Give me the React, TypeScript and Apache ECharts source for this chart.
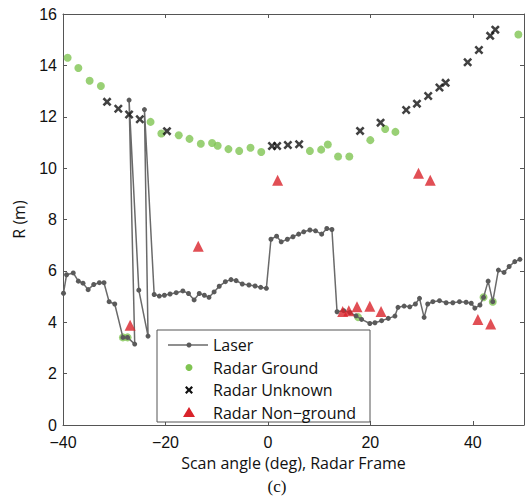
import React, { useEffect, useRef } from "react";
import * as echarts from "echarts";

const seriesNames = ["Laser", "Radar Ground", "Radar Unknown", "Radar Non\u2212ground"];

const laserData: number[][] = [
  [-39.9, 5.13], [-39.3, 5.85], [-38.0, 5.92], [-37.0, 5.6], [-36.1, 5.52], [-35.1, 5.27],
  [-34.0, 5.47], [-32.9, 5.54], [-32.0, 5.54], [-31.0, 4.8], [-29.9, 4.71], [-28.3, 3.41],
  [-27.4, 3.41], [-26.0, 3.15], [-27.1, 12.65], [-25.2, 5.25], [-23.4, 3.46], [-24.1, 12.28],
  [-22.2, 5.08], [-21.2, 5.02], [-20.2, 5.05], [-19.1, 5.1], [-17.9, 5.15], [-16.6, 5.22],
  [-15.5, 5.12], [-14.4, 4.87], [-13.4, 5.12], [-12.4, 5.05], [-11.5, 4.97], [-10.5, 5.18],
  [-9.5, 5.4], [-8.3, 5.58], [-7.2, 5.66], [-6.2, 5.62], [-5.0, 5.49], [-3.7, 5.45],
  [-2.5, 5.41], [-1.4, 5.36], [-0.3, 5.32], [0.6, 7.23], [1.7, 7.35], [2.6, 7.13],
  [3.8, 7.23], [4.9, 7.33], [6.0, 7.43], [7.0, 7.52], [8.2, 7.59], [9.3, 7.56],
  [10.5, 7.43], [11.5, 7.65], [12.5, 7.61], [13.5, 4.41], [14.8, 4.45], [16.0, 4.38],
  [17.2, 4.25], [18.3, 4.11], [19.9, 3.95], [20.9, 3.98], [22.2, 4.06], [23.5, 4.15],
  [24.8, 4.24], [25.4, 4.58], [26.6, 4.63], [27.7, 4.6], [28.8, 4.71], [29.6, 4.93],
  [30.5, 4.19], [31.2, 4.71], [32.2, 4.8], [33.5, 4.84], [34.8, 4.76], [36.1, 4.76],
  [37.4, 4.8], [38.7, 4.78], [39.7, 4.74], [40.4, 4.55], [41.4, 4.67], [42.1, 4.97],
  [43.0, 5.6], [43.9, 4.8], [45.0, 6.03], [46.1, 5.94], [47.1, 6.17], [48.2, 6.36],
  [49.2, 6.45],
];

const groundData: number[][] = [
  [-39.1, 14.3], [-37.0, 13.9], [-34.8, 13.4], [-32.6, 13.2], [-22.9, 11.8], [-20.8, 11.35],
  [-17.4, 11.28], [-15.3, 11.14], [-13.1, 10.95], [-10.9, 10.98], [-9.8, 10.87], [-7.7, 10.74],
  [-5.6, 10.67], [-3.4, 10.79], [-1.3, 10.63], [8.2, 10.67], [10.4, 10.72], [11.7, 10.92],
  [13.7, 10.45], [15.9, 10.45], [20.0, 11.09], [22.9, 11.52], [24.9, 11.41], [48.9, 15.2],
  [-28.3, 3.41], [-27.4, 3.41], [17.6, 4.2], [42.1, 4.97], [43.9, 4.8],
];

const unknownData: number[][] = [
  [-31.4, 12.58], [-29.2, 12.31], [-27.1, 12.09], [-25.0, 11.9], [-19.7, 11.44], [0.8, 10.86],
  [1.8, 10.86], [3.9, 10.9], [6.1, 10.93], [18.0, 11.45], [22.0, 11.77], [27.0, 12.26],
  [29.1, 12.51], [31.3, 12.81], [33.5, 13.14], [34.7, 13.32], [39.0, 14.12], [41.2, 14.6],
  [43.4, 15.15], [44.4, 15.39],
];

const nonGroundData: number[][] = [
  [-26.9, 3.88], [-13.6, 6.96], [1.9, 9.53], [29.4, 9.8], [31.7, 9.53],
  [14.6, 4.42], [15.8, 4.45], [17.4, 4.6], [19.9, 4.62], [22.1, 4.42],
  [41.0, 4.11], [43.5, 3.93],
];

const xTitle = "Scan angle (deg), Radar Frame";
const yTitle = "R (m)";
const panelLabel = "(c)";

const FONT = "Open Sans";
const TICK_FONT = "Liberation Sans";
const AXIS_COLOR = "#555";
const GREEN = "#80c452";
const RED = "#d9232b";
const CROSS_PATH =
  "path://M0,2L2,0L5,3L8,0L10,2L7,5L10,8L8,10L5,7L2,10L0,8L3,5Z";

function crossPoints(cx: number, cy: number, s: number): number[][] {
  const raw = [[0,2],[2,0],[5,3],[8,0],[10,2],[7,5],[10,8],[8,10],[5,7],[2,10],[0,8],[3,5]];
  return raw.map(([x, y]) => [cx + (x - 5) * s / 10, cy + (y - 5) * s / 10]);
}

const minusFmt = (v: number) => String(v).replace("-", "\u2212");

export default function App() {
  const ref = useRef<HTMLDivElement>(null);
  useEffect(() => {
    if (!ref.current) return;
    const chart = echarts.init(ref.current, null, { renderer: "svg" });
    const axisCommon = {
      axisLine: { show: true, onZero: false, lineStyle: { color: AXIS_COLOR, width: 1 } },
      axisTick: { show: true, inside: true, length: 4, lineStyle: { color: AXIS_COLOR } },
      splitLine: { show: false },
    };
    const lx = 157, ly = 330, rowGap = 22.5, r0 = 345, mx = 189;
    const legendText = (i: number) => ({
      type: "text",
      x: 213,
      y: r0 + i * rowGap,
      style: { text: seriesNames[i], fontFamily: FONT, fontSize: 16, fill: "#111", verticalAlign: "middle", align: "left" },
      z: 101,
    });
    chart.setOption({
      animation: false,
      backgroundColor: "#fff",
      grid: { left: 63, right: 1, top: 14, bottom: 72, containLabel: false },
      xAxis: [
        {
          type: "value", min: -40, max: 50, interval: 20, position: "bottom",
          name: xTitle, nameLocation: "middle", nameGap: 30,
          nameTextStyle: { fontFamily: FONT, fontSize: 16, color: "#111" },
          axisLabel: { fontFamily: TICK_FONT, fontSize: 16, lineHeight: 14, color: "#111", margin: 10, showMaxLabel: false, formatter: minusFmt },
          ...axisCommon,
        },
        {
          type: "value", min: -40, max: 50, interval: 20, position: "top",
          axisLabel: { show: false }, ...axisCommon,
        },
      ],
      yAxis: [
        {
          type: "value", min: 0, max: 16, interval: 2, position: "left",
          name: yTitle, nameLocation: "middle", nameGap: 36,
          nameTextStyle: { fontFamily: FONT, fontSize: 16, color: "#111" },
          axisLabel: { fontFamily: TICK_FONT, fontSize: 16, lineHeight: 12, color: "#111", margin: 6 },
          ...axisCommon,
        },
        {
          type: "value", min: 0, max: 16, interval: 2, position: "right",
          axisLabel: { show: false }, ...axisCommon,
        },
      ],
      series: [
        {
          name: seriesNames[0], type: "line", data: laserData, z: 3,
          symbol: "circle", symbolSize: 5, showSymbol: true,
          lineStyle: { color: "#6a6a6a", width: 1.5 },
          itemStyle: { color: "#5a5a5a" },
        },
        {
          name: seriesNames[1], type: "scatter", data: groundData, z: 2,
          symbol: "circle", symbolSize: 8, itemStyle: { color: GREEN },
        },
        {
          name: seriesNames[2], type: "scatter", data: unknownData, z: 4,
          symbol: CROSS_PATH, symbolSize: 9, itemStyle: { color: "#111" },
        },
        {
          name: seriesNames[3], type: "scatter", data: nonGroundData, z: 5,
          symbol: "triangle", symbolSize: 11, itemStyle: { color: RED },
        },
      ],
      graphic: [
        {
          type: "rect", shape: { x: lx, y: ly, width: 213, height: 92 },
          style: { fill: "#fff", stroke: AXIS_COLOR, lineWidth: 1 }, z: 100,
        },
        {
          type: "line", shape: { x1: 168, y1: r0, x2: 208, y2: r0 },
          style: { stroke: "#6a6a6a", lineWidth: 1.5 }, z: 101,
        },
        { type: "circle", shape: { cx: mx, cy: r0, r: 2.5 }, style: { fill: "#5a5a5a" }, z: 101 },
        { type: "circle", shape: { cx: mx, cy: r0 + rowGap, r: 3.5 }, style: { fill: GREEN }, z: 101 },
        { type: "polygon", shape: { points: crossPoints(mx, r0 + 2 * rowGap, 8) }, style: { fill: "#111" }, z: 101 },
        {
          type: "polygon",
          shape: { points: [[mx, r0 + 3 * rowGap - 5.5], [mx + 6, r0 + 3 * rowGap + 4.5], [mx - 6, r0 + 3 * rowGap + 4.5]] },
          style: { fill: RED }, z: 101,
        },
        legendText(0), legendText(1), legendText(2), legendText(3),
        {
          type: "text", x: 277, y: 486,
          style: { text: panelLabel, fontFamily: "Liberation Serif", fontSize: 17, fill: "#111", align: "center", verticalAlign: "middle" },
        },
      ],
    });
    return () => chart.dispose();
  }, []);
  return (
    <div
      ref={ref}
      style={{ position: "fixed", left: 0, top: 0, width: 525, height: 497 }}
    />
  );
}
